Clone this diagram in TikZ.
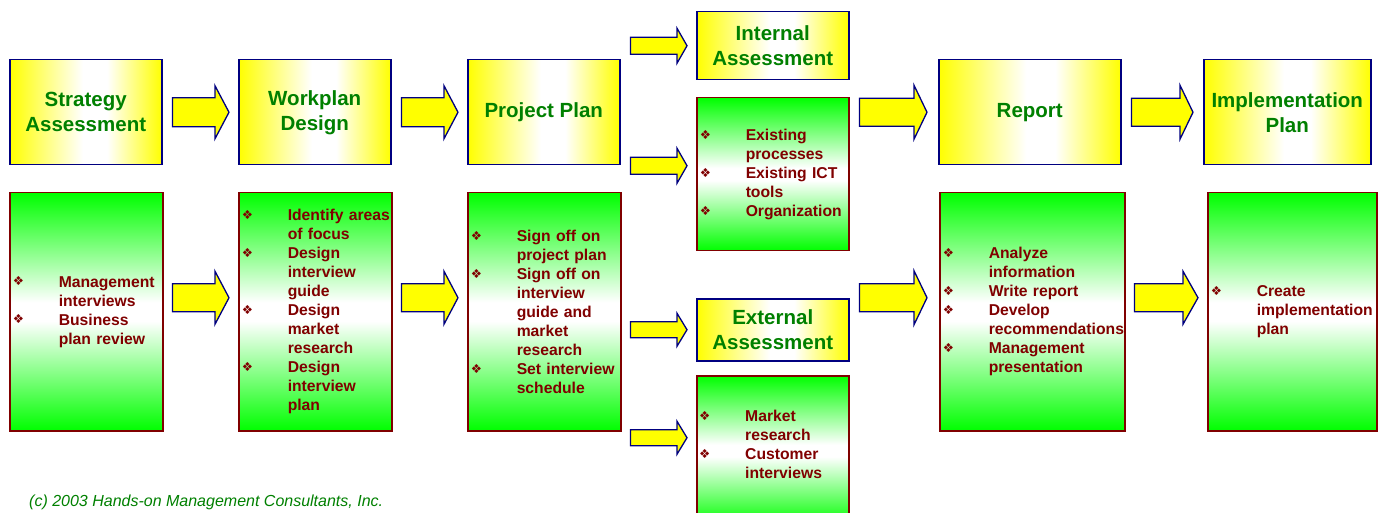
\documentclass[tikz,border=0pt]{standalone}
\usepackage{fontspec}
\setmainfont{Liberation Sans}
\newfontfamily\dvs{DejaVu Sans}
\usetikzlibrary{calc}
\definecolor{hdrgreen}{HTML}{008000}
\definecolor{navy}{HTML}{000080}
\definecolor{mroon}{HTML}{800000}
\definecolor{ylw}{HTML}{FFFF00}
\definecolor{grn}{HTML}{00FF00}
\pgfdeclarehorizontalshading{hdrshade}{100bp}{color(0bp)=(ylw); color(25bp)=(ylw); color(49bp)=(white); color(57bp)=(white); color(75bp)=(ylw); color(100bp)=(ylw)}
\pgfdeclareverticalshading{grnshade}{100bp}{color(0bp)=(grn); color(25bp)=(grn); color(48bp)=(white); color(52bp)=(white); color(75bp)=(grn); color(100bp)=(grn)}
\newcommand\bu{\makebox[46pt][l]{\raisebox{1.2pt}{\dvs\mdseries\fontsize{12.5}{12.5}\selectfont ❖}}}
\newcommand\ind{\hspace*{46pt}}
\newcommand{\barrow}[5]{\filldraw[blockarrow] let \p1=(#1), \p2=(#2) in
  (\x1,\y1+#3) -- (\x2-#5,\y1+#3) -- (\x2-#5,\y1+#4) -- (\x2,\y1) -- (\x2-#5,\y1-#4) -- (\x2-#5,\y1-#3) -- (\x1,\y1-#3) -- cycle;}
\tikzset{
  hdrbox/.style={draw=navy, line width=1.5pt, shade, shading=hdrshade, text=hdrgreen,
    font=\bfseries\fontsize{20.5}{25}\selectfont, align=center, inner sep=0pt, anchor=north west},
  itemtext/.style={text=mroon, font=\bfseries\fontsize{15.7}{19}\selectfont, align=left,
    inner xsep=3pt, inner ysep=0pt,
    execute at begin node={\hyphenpenalty=10000\exhyphenpenalty=10000\lefthyphenmin=64\hbadness=10000\hfuzz=100pt}},
  grnbox/.style={itemtext, draw=mroon, line width=1.5pt, shade, shading=grnshade, anchor=north west},
  blockarrow/.style={draw=navy, fill=ylw, line width=1.3pt, line join=miter}
}
\begin{document}
\begin{tikzpicture}[x=1pt,y=-1pt]
\useasboundingbox (0,0) rectangle (1379,513);
% header boxes
\node[hdrbox, minimum width=152, minimum height=105] (sa) at (9,59) {Strategy\\Assessment};
\node[hdrbox, minimum width=152, minimum height=105] (wp) at (238,59) {Workplan\\Design};
\node[hdrbox, minimum width=152, minimum height=105] (pp) at (467,59) {Project Plan};
\node[hdrbox, minimum width=152, minimum height=68] (ia) at (696,11) {Internal\\Assessment};
\node[hdrbox, minimum width=152, minimum height=62] (ea) at (696,298) {External\\Assessment};
\node[hdrbox, minimum width=182, minimum height=105] (rp) at (938,59) {Report};
\node[hdrbox, minimum width=167, minimum height=105] (ip) at (1203,59) {Implementation\\Plan};
% green boxes
\node[grnbox, minimum width=153, minimum height=238, text width=147] (sag) at (9,192)
  {\bu Management\\ \ind interviews\\ \bu Business\\ \ind plan review};
\node[grnbox, minimum width=153, minimum height=238, text width=147] (wpg) at (238,192)
  {\bu Identify~areas\\ \ind of focus\\ \bu Design\\ \ind interview\\ \ind guide\\ \bu Design\\ \ind market\\ \ind research\\ \bu Design\\ \ind interview\\ \ind plan};
\node[grnbox, minimum width=153, minimum height=238, text width=147] (ppg) at (467,192)
  {\bu Sign off on\\ \ind project plan\\ \bu Sign off on\\ \ind interview\\ \ind guide and\\ \ind market\\ \ind research\\ \bu Set interview\\ \ind schedule};
\node[grnbox, minimum width=152, minimum height=153, text width=146] (iag) at (696,97)
  {\bu Existing\\ \ind processes\\ \bu Existing ICT\\ \ind tools\\ \bu Organization};
\node[grnbox, minimum width=152, minimum height=150] (eag) at (696,375) {};
\node[itemtext, anchor=west, text width=146] (eagt) at ($(eag.west)+(0,-6)$)
  {\bu Market\\ \ind research\\ \bu Customer\\ \ind interviews};
\node[grnbox, minimum width=185, minimum height=238, text width=179] (rpg) at (939,192)
  {\bu Analyze\\ \ind information\\ \bu Write report\\ \bu Develop\\ \ind recommendations\\ \bu Management\\ \ind presentation};
\node[grnbox, minimum width=169, minimum height=238, text width=163] (ipg) at (1207,192)
  {\bu Create\\ \ind implementation\\ \ind plan};
% block arrows
\barrow{$(sa.east)+(10,0)$}{$(wp.west)+(-9,0)$}{14.5}{26.5}{14}
\barrow{$(wp.east)+(10,0)$}{$(pp.west)+(-9,0)$}{14.5}{26.5}{14}
\barrow{$(sag.east)+(9,-14)$}{$(wpg.west)+(-9,-14)$}{14}{26.5}{14}
\barrow{$(wpg.east)+(9,-14)$}{$(ppg.west)+(-9,-14)$}{14}{26.5}{14}
\barrow{$(pp.east |- ia.west)+(10,0)$}{$(ia.west)+(-9,0)$}{8.5}{17.5}{10}
\barrow{$(pp.east |- iag.west)+(10,-8.5)$}{$(iag.west)+(-9,-8.5)$}{8.5}{17.5}{10}
\barrow{$(pp.east |- ea.west)+(10,0)$}{$(ea.west)+(-9,0)$}{8}{16.5}{10}
\barrow{$(pp.east |- eag.west)+(10,-13)$}{$(eag.west)+(-9,-13)$}{8}{16.5}{10}
\barrow{$(ia.east |- rp.west)+(10,0)$}{$(rp.west)+(-11,0)$}{14}{27}{13}
\barrow{$(iag.east |- rpg.west)+(10,-14)$}{$(rpg.west)+(-12,-14)$}{14}{27}{13}
\barrow{$(rp.east)+(10,0)$}{$(ip.west)+(-10,0)$}{14}{27}{13}
\barrow{$(rpg.east)+(9,-14)$}{$(ipg.west)+(-9,-14)$}{14}{26.5}{15}
% footer
\node[font=\itshape\fontsize{16}{16}\selectfont, text=hdrgreen, anchor=west, inner sep=0pt] (copy) at (29,502)
  {(c) 2003 Hands-on Management Consultants, Inc.};
\end{tikzpicture}
\end{document}
